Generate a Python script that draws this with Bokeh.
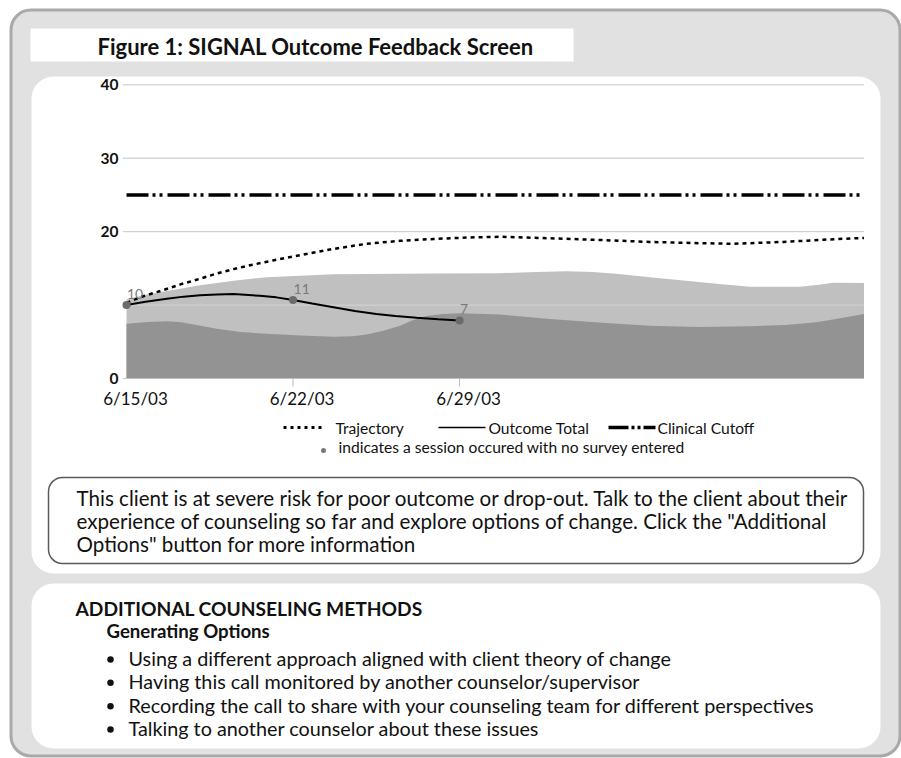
from bokeh.plotting import figure
from bokeh.models import Range1d
from bokeh.core.properties import value
from bokeh.embed import file_html
from bokeh.resources import INLINE

# ---------------- data ----------------
session_dates = ["6/15/03", "6/22/03", "6/29/03"]
session_days = [0, 7, 14]
session_scores = [10.0, 10.7, 7.9]
session_labels = ["10", "11", "7"]

outcome_days = [0, 0.8, 1.7, 2.4, 3.1, 3.8, 4.5, 5.6, 6.3, 7, 7.8, 8.7, 9.6, 10.5, 11.3, 12.2, 13.1, 14]
outcome_vals = [10.0, 10.45, 10.85, 11.15, 11.35, 11.45, 11.5, 11.27, 11.05, 10.7, 10.2, 9.7,
                9.2, 8.8, 8.5, 8.27, 8.07, 7.9]

trajectory_days = [0, 0.7, 1.5, 2.3, 3.1, 3.8, 4.5, 5.3, 6.2, 7.3, 8.7, 10.1, 11.5, 12.9,
                   14.3, 15.7, 17.8, 20.0, 22.0, 23.8, 25.5, 27.6, 29.3, 31]
trajectory_vals = [10.3, 11.2, 12.0, 12.85, 13.6, 14.3, 14.9, 15.5, 16.1, 16.8, 17.65, 18.35,
                   18.75, 19.0, 19.2, 19.3, 19.1, 18.85, 18.6, 18.45, 18.35, 18.6, 18.9, 19.15]

cutoff_days = [0, 31]
cutoff_vals = [25, 25]

upper_days = [0, 0.8, 1.7, 3.1, 4.5, 5.9, 8.7, 12.9, 15.7, 17.2, 18.5, 19.6, 20.6, 22.0,
              23.4, 24.8, 26.2, 28.3, 29.2, 29.7, 31]
upper_vals = [10.8, 11.4, 11.9, 12.7, 13.3, 13.8, 14.2, 14.3, 14.35, 14.5, 14.6, 14.5, 14.25,
              13.8, 13.35, 12.9, 12.5, 12.5, 12.8, 13.05, 13.0]

lower_days = [0, 0.9, 1.7, 2.3, 3.0, 3.8, 4.8, 5.9, 7.3, 8.7, 9.5, 10.1, 10.8, 11.5, 12.0,
              12.6, 13.3, 14.0, 15.7, 17.8, 20.0, 22.0, 24.1, 26.2, 27.7, 29.0, 30.0, 31]
lower_vals = [7.45, 7.7, 7.8, 7.67, 7.25, 6.76, 6.35, 6.08, 5.85, 5.7, 5.75, 6.0, 6.5, 7.2,
              7.9, 8.5, 8.8, 8.9, 8.7, 8.1, 7.6, 7.2, 7.0, 7.1, 7.3, 7.67, 8.2, 8.8]

grid_values = [0, 10, 20, 30, 40]
y_label_values = [0, 20, 30, 40]
y_label_text = ["0", "20", "30", "40"]

legend_labels = ["Trajectory", "Outcome Total", "Clinical Cutoff"]
legend_note = "indicates a session occured with no survey entered"

title_text = "Figure 1: SIGNAL Outcome Feedback Screen"
message_lines = [
    "This client is at severe risk for poor outcome or drop-out. Talk to the client about their",
    "experience of counseling so far and explore options of change. Click the \"Additional",
    "Options\" button for more information",
]
section_title = "ADDITIONAL COUNSELING METHODS"
section_sub = "Generating Options"
bullets = [
    "Using a different approach aligned with client theory of change",
    "Having this call monitored by another counselor/supervisor",
    "Recording the call to share with your counseling team for different perspectives",
    "Talking to another counselor about these issues",
]

# ---------------- canvas ----------------
W, H = 901, 758
FONT = value("Lato")
INK = "#111111"

p = figure(width=W, height=H, x_range=Range1d(0, W), y_range=Range1d(H, 0),
           output_backend="svg", toolbar_location=None,
           x_axis_type=None, y_axis_type=None, min_border=0,
           outline_line_color=None)
p.background_fill_color = "white"
p.border_fill_color = "white"

# chart scale (pixel anchors of day 0 / value 0 and sizes)
X0_PX, PX_PER_DAY = 126.0, 23.79
Y0_PX, PX_PER_UNIT = 378.0, 7.3425
p.extra_x_ranges = {"cx": Range1d(-X0_PX / PX_PER_DAY, (W - X0_PX) / PX_PER_DAY)}
p.extra_y_ranges = {"cy": Range1d((Y0_PX - H) / PX_PER_UNIT, Y0_PX / PX_PER_UNIT)}
C = dict(x_range_name="cx", y_range_name="cy")

# ---------------- decorations ----------------
p.quad(left=[10.5], right=[899.5], top=[9.5], bottom=[755.5], fill_color="#e1e1e1",
       line_color="#a9a9a9", line_width=3, border_radius=20)
p.quad(left=[30], right=[573], top=[28], bottom=[61], fill_color="white", line_color=None)
p.quad(left=[31], right=[880], top=[76], bottom=[573], fill_color="white", line_color=None,
       border_radius=22)
p.quad(left=[31], right=[880], top=[583], bottom=[748], fill_color="white", line_color=None,
       border_radius=22)
p.quad(left=[48], right=[863], top=[477], bottom=[563], fill_color="white",
       line_color="#5a5a5a", line_width=1.5, border_radius=14)

# ---------------- chart ----------------
gx0, gx1 = -0.15, 31
p.segment(x0=[gx0] * len(grid_values), x1=[gx1] * len(grid_values), y0=grid_values,
          y1=grid_values, line_color="#b9b9b9", line_width=1, **C)

p.varea(x=upper_days, y1=[0] * len(upper_days), y2=upper_vals, fill_color="#c0c0c0", **C)
p.varea(x=lower_days, y1=[0] * len(lower_days), y2=lower_vals, fill_color="#939393", **C)

# light overlay of gridlines on top of areas
p.segment(x0=[gx0] * len(grid_values), x1=[gx1] * len(grid_values), y0=grid_values,
          y1=grid_values, line_color="white", line_alpha=0.25, line_width=1.2, **C)

# x tick marks
p.segment(x0=session_days[1:], x1=session_days[1:], y0=[0] * 2, y1=[-1.1] * 2,
          line_color="#bbbbbb", line_width=1, **C)

p.line(cutoff_days, cutoff_vals, line_color="black", line_width=3.5,
       line_dash="22 4 3 4 3 5", **C)
p.line(trajectory_days, trajectory_vals, line_color="black", line_width=2.5,
       line_dash="4 4", **C)
p.line(outcome_days, outcome_vals, line_color="black", line_width=2, **C)
p.scatter(session_days, session_scores, size=8, fill_color="#6b6b6b", line_color=None, **C)

p.text(x=session_days, y=session_scores, text=session_labels, x_offset=0.5, y_offset=-11,
       text_font=FONT, text_font_size="14px", text_color="#7a7a7a",
       text_align="left", text_baseline="middle", **C)

# y tick labels
p.text(x=[0] * len(y_label_values), y=y_label_values, text=y_label_text, x_offset=-8,
       text_font=FONT, text_font_size="15.5px", text_font_style="bold", text_color=INK,
       text_align="right", text_baseline="middle", **C)
# x tick labels
p.text(x=session_days, y=[0] * 3, text=session_dates, x_offset=9, y_offset=19.5,
       text_font=FONT, text_font_size="17px", text_color=INK,
       text_align="center", text_baseline="middle", **C)

# ---------------- legend ----------------
LY = 427
p.line([283, 325], [LY, LY], line_color="black", line_width=3, line_dash="3 4")
p.line([438, 485], [LY, LY], line_color="black", line_width=1.5)
p.line([608, 655], [LY, LY], line_color="black", line_width=3.5, line_dash="20 3 3 3 3 3")
p.text(x=[335, 488, 657], y=[LY] * 3, text=legend_labels, text_font=FONT,
       text_font_size="15.6px", text_color=INK, text_baseline="middle")
p.scatter([323], [450], size=5, fill_color="#777777", line_color=None)
p.text(x=[338], y=[446.5], text=[legend_note], text_font=FONT, text_font_size="15.6px",
       text_color=INK, text_baseline="middle")

# ---------------- texts ----------------
p.text(x=[97], y=[45.5], text=[title_text], text_font=FONT, text_font_size="22px",
       text_font_style="bold", text_color=INK, text_baseline="middle")

p.text(x=[76] * 3, y=[497, 520, 543], text=message_lines, text_font=FONT,
       text_font_size="20.6px", text_color=INK, text_baseline="middle")

p.text(x=[75], y=[608], text=[section_title], text_font=FONT, text_font_size="19.2px",
       text_font_style="bold", text_color=INK, text_baseline="middle")
p.text(x=[106], y=[630], text=[section_sub], text_font=FONT, text_font_size="18.6px",
       text_font_style="bold", text_color=INK, text_baseline="middle")
bullet_y = [657.5, 680.8, 704.2, 727.5]
p.scatter([110] * 4, [b + 1.5 for b in bullet_y], size=6.5, fill_color=INK, line_color=None)
p.text(x=[128] * 4, y=bullet_y, text=bullets, text_font=FONT, text_font_size="19.8px",
       text_color=INK, text_baseline="middle")

open("out.html", "w").write(file_html(p, INLINE))
